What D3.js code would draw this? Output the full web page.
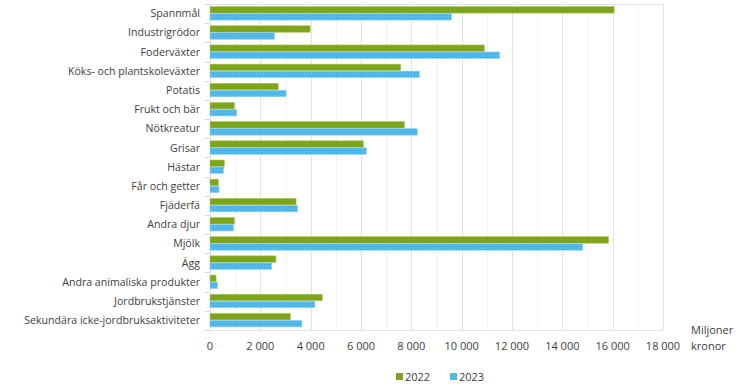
<!DOCTYPE html>
<html><head><meta charset="utf-8">
<script src="https://cdn.jsdelivr.net/npm/d3@7"></script>
<style>body{margin:0;background:#fff}svg{display:block}text{font-family:"Open Sans",sans-serif;fill:#404040}</style>
</head><body><svg id="c" width="740" height="389"></svg>
<script>
const categories = ["Spannmål","Industrigrödor","Foderväxter","Köks- och plantskoleväxter","Potatis","Frukt och bär","Nötkreatur","Grisar","Hästar","Får och getter","Fjäderfä","Andra djur","Mjölk","Ägg","Andra animaliska produkter","Jordbrukstjänster","Sekundära icke-jordbruksaktiviteter"];
const values2022 = [16060,3980,10900,7580,2710,970,7730,6090,570,330,3420,970,15840,2620,240,4460,3190];
const values2023 = [9590,2560,11510,8320,3020,1060,8240,6210,540,360,3480,940,14810,2450,300,4170,3650];
const seriesNames = ["2022","2023"];
const tickValues = [0,2000,4000,6000,8000,10000,12000,14000,16000,18000];
const unitLabel = ["Miljoner","kronor"];

(function(){
const svg = d3.select("#c");
const L=210, R=663, T=4, B=330;
const x = d3.scaleLinear().domain([0,18000]).range([L,R]);
const y = d3.scaleBand().domain(categories).range([T,B]).paddingInner(0.27).paddingOuter(0.135);
const sub = d3.scaleBand().domain(seriesNames).range([0,y.bandwidth()]);

const defs = svg.append("defs");
const pat = defs.append("pattern").attr("id","hatch").attr("width",3).attr("height",3).attr("patternUnits","userSpaceOnUse");
pat.append("rect").attr("width",3).attr("height",3).attr("fill","#5cc0ef");
pat.append("rect").attr("width",1).attr("height",1).attr("fill","#2d9bd4");
pat.append("rect").attr("x",1.5).attr("y",1.5).attr("width",1).attr("height",1).attr("fill","#2d9bd4");

const minor = d3.range(1000,18000,2000);
svg.append("g").selectAll("line").data(minor).join("line")
  .attr("x1",d=>Math.round(x(d))+0.5).attr("x2",d=>Math.round(x(d))+0.5).attr("y1",T).attr("y2",B)
  .attr("stroke","#f2f2f2").attr("stroke-width",1);
svg.append("g").selectAll("line").data(tickValues).join("line")
  .attr("x1",d=>Math.round(x(d))+0.5).attr("x2",d=>Math.round(x(d))+0.5).attr("y1",T).attr("y2",B)
  .attr("stroke","#e3e3e3").attr("stroke-width",1);
svg.append("line").attr("x1",L).attr("x2",R).attr("y1",T+0.5).attr("y2",T+0.5).attr("stroke","#e3e3e3");
svg.append("line").attr("x1",L).attr("x2",R).attr("y1",B+0.5).attr("y2",B+0.5).attr("stroke","#e3e3e3");

svg.append("g").selectAll("line").data(d3.range(categories.length+1)).join("line")
  .attr("x1",L-5).attr("x2",L).attr("y1",i=>Math.round(T+i*(B-T)/categories.length)+0.5).attr("y2",i=>Math.round(T+i*(B-T)/categories.length)+0.5)
  .attr("stroke","#d9d9d9");

const data = categories.map((c,i)=>({c,v:[values2022[i],values2023[i]]}));
const g = svg.append("g");
data.forEach(d=>{
  g.append("rect").attr("x",x(0)).attr("y",y(d.c)+sub("2022")).attr("width",x(d.v[0])-x(0)).attr("height",sub.bandwidth()-0.5)
    .attr("fill","#7ea41a").attr("stroke","#a9c75a").attr("stroke-width",0.6);
  g.append("rect").attr("x",x(0)).attr("y",y(d.c)+sub("2023")).attr("width",x(d.v[1])-x(0)).attr("height",sub.bandwidth()-0.5)
    .attr("fill","url(#hatch)").attr("stroke","#8fd3f5").attr("stroke-width",0.6);
});

svg.append("g").selectAll("text").data(categories).join("text")
  .attr("x",200).attr("y",d=>y(d)+y.bandwidth()/2).attr("dy","0.35em").attr("text-anchor","end")
  .attr("font-size",10.6).text(d=>d);

svg.append("g").selectAll("text").data(tickValues).join("text")
  .attr("x",d=>x(d)).attr("y",350).attr("text-anchor","middle").attr("font-size",11)
  .text(d=>d3.format(",")(d).replace(/,/g,"\u00a0"));

svg.append("text").attr("x",691).attr("y",334).attr("font-size",11).text(unitLabel[0]);
svg.append("text").attr("x",691).attr("y",350).attr("font-size",11).text(unitLabel[1]);

const lg = svg.append("g");
const lx=[396,450];
seriesNames.forEach((s,i)=>{
  lg.append("rect").attr("x",lx[i]).attr("y",373).attr("width",7).attr("height",7).attr("fill",i?"url(#hatch)":"#7ea41a");
  lg.append("text").attr("x",lx[i]+9).attr("y",381).attr("font-size",11).text(s);
});
})();
</script></body></html>
